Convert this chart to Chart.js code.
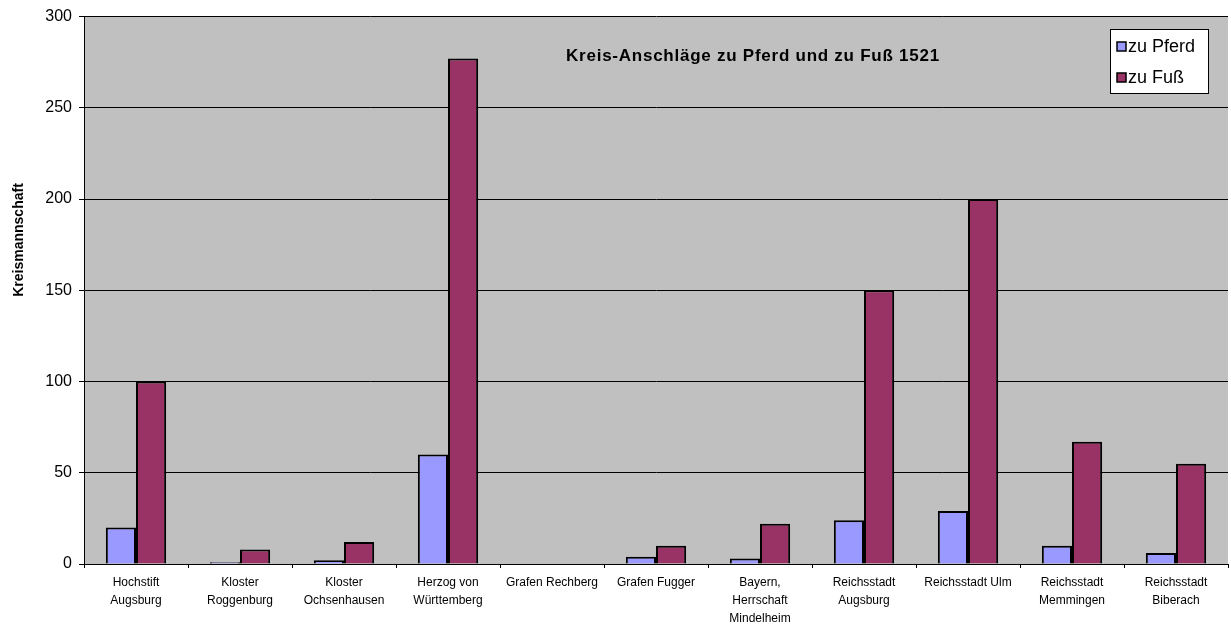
<!DOCTYPE html>
<html>
<head>
<meta charset="utf-8">
<title>Kreis-Anschläge zu Pferd und zu Fuß 1521</title>
<script src="https://cdn.jsdelivr.net/npm/chart.js@4.4.1/dist/chart.umd.min.js"></script>
<style>
  html, body { margin: 0; padding: 0; background: #ffffff; }
  #wrap { width: 1231px; height: 628px; }
</style>
</head>
<body>
<div id="wrap"><canvas id="c" width="1231" height="628"></canvas></div>
<script>
// Kreisstände (multi-line labels for the category axis)
const categories = [
  ["Hochstift", "Augsburg"],
  ["Kloster", "Roggenburg"],
  ["Kloster", "Ochsenhausen"],
  ["Herzog von", "Württemberg"],
  "Grafen Rechberg",
  "Grafen Fugger",
  ["Bayern,", "Herrschaft", "Mindelheim"],
  ["Reichsstadt", "Augsburg"],
  "Reichsstadt Ulm",
  ["Reichsstadt", "Memmingen"],
  ["Reichsstadt", "Biberach"]
];

// Anschlag zu Pferd (Reiter) und zu Fuß (Knechte)
const zuPferd = [20, 1, 2, 60, 0, 4, 3, 24, 29, 10, 6];
const zuFuss  = [100, 8, 12, 277, 0, 10, 22, 150, 200, 67, 55];

const seriesNames = ["zu Pferd", "zu Fuß"];
const yTicks = [0, 50, 100, 150, 200, 250, 300];

const chartTitle = "Kreis-Anschläge zu Pferd und zu Fuß 1521";
const yAxisTitle = "Kreismannschaft";

const FONT = '"Liberation Sans", Arial, sans-serif';

// Grey plot area, in-plot title, framed legend and the rotated y-axis title
const decorations = {
  id: 'decorations',
  beforeDraw(chart) {
    const { ctx, chartArea: a } = chart;
    ctx.save();
    ctx.fillStyle = '#ffffff';
    ctx.fillRect(0, 0, chart.width, chart.height);
    ctx.fillStyle = '#c0c0c0';
    ctx.fillRect(a.left, a.top, a.right - a.left, a.bottom - a.top);
    ctx.restore();
  },
  afterDraw(chart) {
    const { ctx } = chart;
    ctx.save();

    // title inside the plot area
    ctx.fillStyle = '#000';
    ctx.font = 'bold 17px ' + FONT;
    ctx.textAlign = 'center';
    ctx.textBaseline = 'middle';
    try { ctx.letterSpacing = '0.75px'; } catch (e) {}
    ctx.fillText(chartTitle, 753, 56);
    try { ctx.letterSpacing = '0px'; } catch (e) {}

    // y-axis title
    ctx.save();
    ctx.translate(19, 240);
    ctx.rotate(-Math.PI / 2);
    ctx.font = 'bold 14px ' + FONT;
    ctx.textAlign = 'center';
    ctx.textBaseline = 'middle';
    ctx.fillText(yAxisTitle, 0, 0);
    ctx.restore();

    // legend box
    const bx = 1110.5, by = 29.5, bw = 98, bh = 64;
    ctx.fillStyle = '#ffffff';
    ctx.fillRect(bx, by, bw, bh);
    ctx.strokeStyle = '#000';
    ctx.lineWidth = 1;
    ctx.strokeRect(bx, by, bw, bh);
    const rows = [47, 78];
    chart.data.datasets.forEach((ds, i) => {
      const cy = rows[i];
      ctx.fillStyle = ds.backgroundColor;
      ctx.fillRect(1117, cy - 5, 9, 9);
      ctx.strokeStyle = '#000';
      ctx.lineWidth = 1.5;
      ctx.strokeRect(1117, cy - 5, 9, 9);
      ctx.fillStyle = '#000';
      ctx.font = '18px ' + FONT;
      ctx.textAlign = 'left';
      ctx.textBaseline = 'middle';
      ctx.fillText(ds.label, 1128, cy);
    });
    ctx.restore();
  }
};

new Chart(document.getElementById('c'), {
  type: 'bar',
  data: {
    labels: categories,
    datasets: [
      {
        label: seriesNames[0],
        data: zuPferd,
        backgroundColor: '#9999ff',
        borderColor: '#000000',
        borderWidth: 2
      },
      {
        label: seriesNames[1],
        data: zuFuss,
        backgroundColor: '#993366',
        borderColor: '#000000',
        borderWidth: 2
      }
    ]
  },
  options: {
    responsive: false,
    animation: false,
    devicePixelRatio: 1,
    layout: { padding: { left: 0, right: 3, top: 16, bottom: 0 } },
    datasets: {
      bar: { categoryPercentage: 0.58, barPercentage: 1.0 }
    },
    plugins: {
      legend: { display: false },
      title: { display: false },
      tooltip: { enabled: false }
    },
    scales: {
      x: {
        offset: true,
        grid: {
          offset: true,
          drawOnChartArea: false,
          drawTicks: true,
          tickLength: 4,
          color: '#000'
        },
        border: { display: true, color: '#000', width: 1 },
        ticks: {
          color: '#000',
          padding: 6,
          maxRotation: 0,
          minRotation: 0,
          autoSkip: false,
          font: { family: FONT, size: 12, lineHeight: 18 / 12 }
        },
        afterFit(scale) { scale.height = 64; }
      },
      y: {
        min: 0,
        max: 300,
        afterBuildTicks(scale) { scale.ticks = yTicks.map(v => ({ value: v })); },
        grid: {
          color: '#000',
          lineWidth: 1,
          drawTicks: true,
          tickLength: 5
        },
        border: { display: true, color: '#000', width: 1 },
        ticks: {
          color: '#000',
          padding: 7,
          font: { family: FONT, size: 16 }
        },
        afterFit(scale) { scale.width = 84; }
      }
    }
  },
  plugins: [decorations]
});
</script>
</body>
</html>
